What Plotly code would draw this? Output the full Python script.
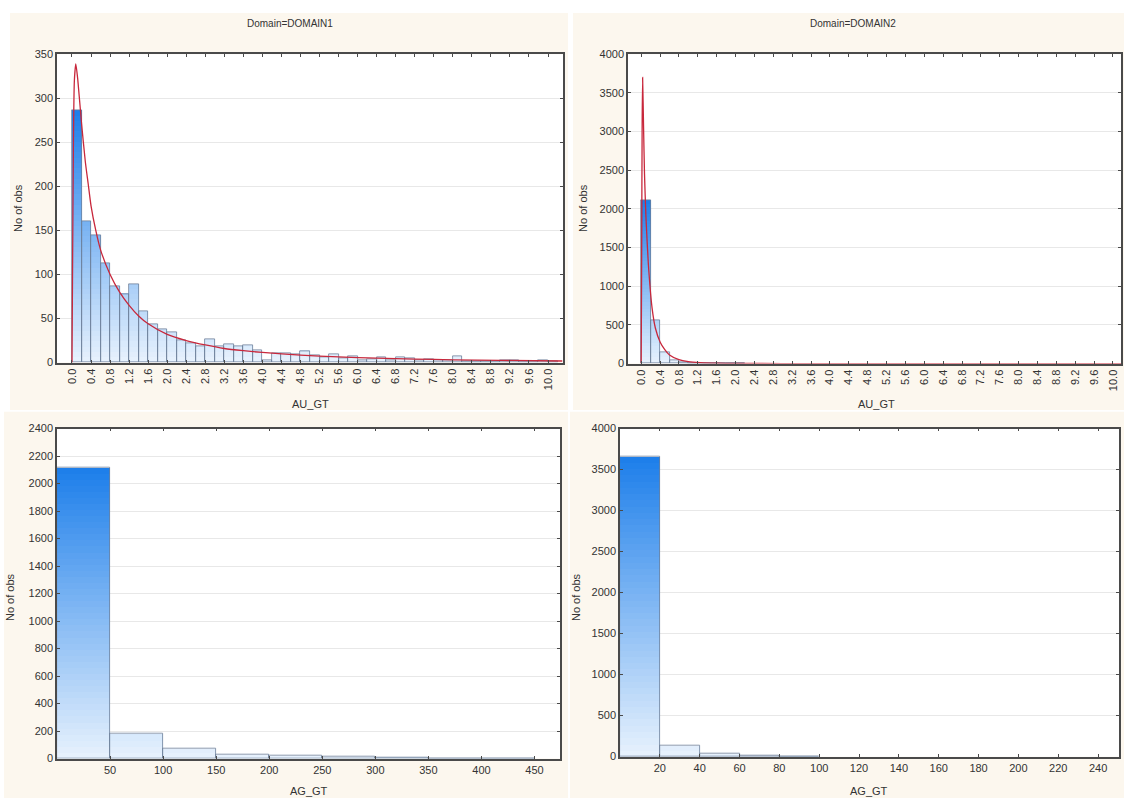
import plotly.graph_objects as go

W, H = 1124, 804

# ---------------- data ----------------
au_bin_width = 0.2
au_bins = [round(0.2 * i, 1) for i in range(51)]
d1_au_counts = [286, 160, 145, 113, 87, 78, 89, 58, 44, 38,
                35, 25, 22, 18, 26, 18, 21, 18, 20, 14,
                3, 11, 11, 9, 13, 8, 6, 10, 5, 7,
                3, 4, 6, 3, 6, 5, 3, 4, 3, 3,
                7, 2, 2, 1, 2, 3, 3, 1, 1, 3, 2]
d2_au_counts = [2110, 560, 145, 40, 18, 9, 5, 3, 2, 1,
                1, 0, 0, 0, 0, 0, 0, 0, 0, 0,
                0, 0, 0, 0, 0, 0, 0, 0, 0, 0,
                0, 0, 0, 0, 0, 0, 0, 0, 0, 0,
                0, 0, 0, 0, 0, 0, 0, 0, 0, 0, 0]

d1_fit_x = [0.0, 0.01, 0.03, 0.05, 0.08, 0.12, 0.2, 0.28, 0.34, 0.4, 0.5, 0.6, 0.8,
            1.0, 1.2, 1.4, 1.6, 2.0, 2.4, 2.8, 3.2, 3.6, 4.0, 4.8, 5.6, 6.4, 7.2,
            8.0, 9.0, 10.3]
d1_fit_y = [0, 90, 250, 320, 339, 322, 272, 228, 203, 178, 150, 128, 100,
            80, 65, 53, 44, 32, 25, 20, 16, 13.5, 11.5, 8.5, 6.5, 5, 4,
            3.2, 2.5, 1.8]
d2_fit_x = [0.0, 0.01, 0.02, 0.03, 0.05, 0.07, 0.1, 0.15, 0.23, 0.3, 0.4, 0.5,
            0.6, 0.8, 1.0, 1.25, 1.6, 2.0, 3.0, 5.0, 10.17]
d2_fit_y = [0, 1500, 3100, 3700, 3050, 2450, 1900, 1300, 720, 460, 280, 180,
            110, 50, 25, 13, 5, 2, 0.5, 0.1, 0]

ag1_bin_width = 50
ag1_bins = [0, 50, 100, 150, 200, 250, 300, 350, 400]
d1_ag_counts = [2120, 181, 72, 31, 22, 17, 10, 2, 1]
ag2_bin_width = 20
ag2_bins = [0, 20, 40, 60, 80, 100, 120, 140, 160, 180, 200, 220]
d2_ag_counts = [3664, 136, 40, 8, 5, 0, 0, 0, 0, 0, 0, 0]

au_ticks = [round(0.4 * i, 1) for i in range(26)]
au_ticktext = [f"{v:.1f}" for v in au_ticks]

# ---------------- styling ----------------
BEIGE = "#FCF7EE"
DARK = (28, 126, 234)
LIGHT = (232, 242, 253)
OUTLINE = "#6C7F99"
RED = "#C8283C"
FONT = "Liberation Sans, Arial, sans-serif"
TXT = "#333333"


def px_x(p):
    return p / W


def px_y(p):
    return 1 - p / H


fig = go.Figure()


def grad_color(t):
    r = [round(LIGHT[i] + t * (DARK[i] - LIGHT[i])) for i in range(3)]
    return f"rgb({r[0]},{r[1]},{r[2]})"


def gradient_hist(ax, bins, width, values, nlev=48):
    xs, ys = ax
    centers = [b + width / 2 for b in bins]
    vmax = max(values)
    step = vmax / nlev
    for k in range(nlev):
        base = k * step
        hs = [min(v - base, step * 1.15) if v > base else 0 for v in values]
        if not any(h > 0 for h in hs):
            continue
        t = (k + 0.5) / nlev
        fig.add_trace(go.Bar(x=centers, y=hs, base=base, width=width,
                             marker=dict(color=grad_color(t), line=dict(width=0)),
                             xaxis=xs, yaxis=ys, showlegend=False, hoverinfo="skip"))
    oc = [c for c, v in zip(centers, values) if v > 0]
    ov = [v for v in values if v > 0]
    fig.add_trace(go.Bar(x=oc, y=ov, width=width,
                         marker=dict(color="rgba(0,0,0,0)",
                                     line=dict(color=OUTLINE, width=0.8)),
                         xaxis=xs, yaxis=ys, showlegend=False))


gradient_hist(("x", "y"), au_bins, au_bin_width, d1_au_counts)
fig.add_trace(go.Scatter(x=d1_fit_x, y=d1_fit_y, mode="lines",
                         line=dict(color=RED, width=1.3, shape="spline", smoothing=0.6),
                         xaxis="x", yaxis="y", showlegend=False))
gradient_hist(("x2", "y2"), au_bins, au_bin_width, d2_au_counts)
fig.add_trace(go.Scatter(x=d2_fit_x, y=d2_fit_y, mode="lines",
                         line=dict(color=RED, width=1.3, shape="spline", smoothing=0.5),
                         xaxis="x2", yaxis="y2", showlegend=False))
gradient_hist(("x3", "y3"), ag1_bins, ag1_bin_width, d1_ag_counts)
gradient_hist(("x4", "y4"), ag2_bins, ag2_bin_width, d2_ag_counts)

axis_common = dict(showline=True, linecolor="#4a4a4a", linewidth=1.5, mirror="ticks",
                   ticks="inside", ticklen=3, tickcolor="#4a4a4a",
                   tickfont=dict(family=FONT, size=11, color=TXT), zeroline=False)

xcommon = dict(axis_common, showgrid=False)
ycommon = dict(axis_common, showgrid=True, gridcolor="#E8E8E8", gridwidth=1)

plot_boxes = [(57, 563, 49, 362), (628, 1121, 49, 363), (57, 560, 429, 764), (620, 1119, 429, 762)]

layout = dict(
    width=W, height=H, margin=dict(l=0, r=0, t=0, b=0),
    paper_bgcolor="white", plot_bgcolor="white", barmode="overlay", bargap=0,
    font=dict(family=FONT, size=11, color=TXT),
    xaxis=dict(xcommon, domain=[px_x(57), px_x(563)], range=[-0.315, 10.315],
               tickvals=au_ticks, ticktext=au_ticktext, tickangle=-90, anchor="y"),
    yaxis=dict(ycommon, domain=[px_y(362), px_y(49)], range=[0, 350], dtick=50, anchor="x"),
    xaxis2=dict(xcommon, domain=[px_x(628), px_x(1121)], range=[-0.28, 10.17],
                tickvals=au_ticks, ticktext=au_ticktext, tickangle=-90, anchor="y2"),
    yaxis2=dict(ycommon, domain=[px_y(363), px_y(49)], range=[0, 4000], dtick=500, anchor="x2"),
    xaxis3=dict(xcommon, domain=[px_x(57), px_x(560)], range=[0, 474],
                tickvals=[50, 100, 150, 200, 250, 300, 350, 400, 450], anchor="y3"),
    yaxis3=dict(ycommon, domain=[px_y(764), px_y(429)], range=[0, 2400], dtick=200, anchor="x3"),
    xaxis4=dict(xcommon, domain=[px_x(620), px_x(1119)], range=[0, 250.5],
                tickvals=[20, 40, 60, 80, 100, 120, 140, 160, 180, 200, 220, 240], anchor="y4"),
    yaxis4=dict(ycommon, domain=[px_y(762), px_y(429)], range=[0, 4000], dtick=500, anchor="x4"),
)

shapes = []
for (x0, x1, y0, y1) in [(10, 568, 7, 410), (573, 1124, 7, 410),
                         (4, 568, 412, 804), (570, 1124, 412, 804)]:
    shapes.append(dict(type="rect", xref="paper", yref="paper", layer="below",
                       x0=px_x(x0), x1=px_x(x1), y0=px_y(y1), y1=px_y(y0),
                       fillcolor=BEIGE, line=dict(width=0)))
for (x0, x1, y0, y1) in plot_boxes:
    shapes.append(dict(type="rect", xref="paper", yref="paper", layer="below",
                       x0=px_x(x0), x1=px_x(x1), y0=px_y(y1), y1=px_y(y0),
                       fillcolor="white", line=dict(width=0)))
layout["shapes"] = shapes

ann = []


def text(x, y, s, angle=0, size=11):
    ann.append(dict(x=px_x(x), y=px_y(y), xref="paper", yref="paper", text=s,
                    showarrow=False, textangle=angle, xanchor="center", yanchor="middle",
                    font=dict(family=FONT, size=size, color=TXT)))


text(290, 18, "Domain=DOMAIN1", size=10)
text(853, 18, "Domain=DOMAIN2", size=10)
text(18, 205, "No of obs", angle=-90)
text(583, 205, "No of obs", angle=-90)
text(10, 600, "No of obs", angle=-90)
text(576, 600, "No of obs", angle=-90)
text(310, 404, "AU_GT")
text(876, 404, "AU_GT")
text(309, 797, "AG_GT")
text(869, 797, "AG_GT")
layout["annotations"] = ann

fig.update_layout(**layout)
fig.write_html("out.html")
